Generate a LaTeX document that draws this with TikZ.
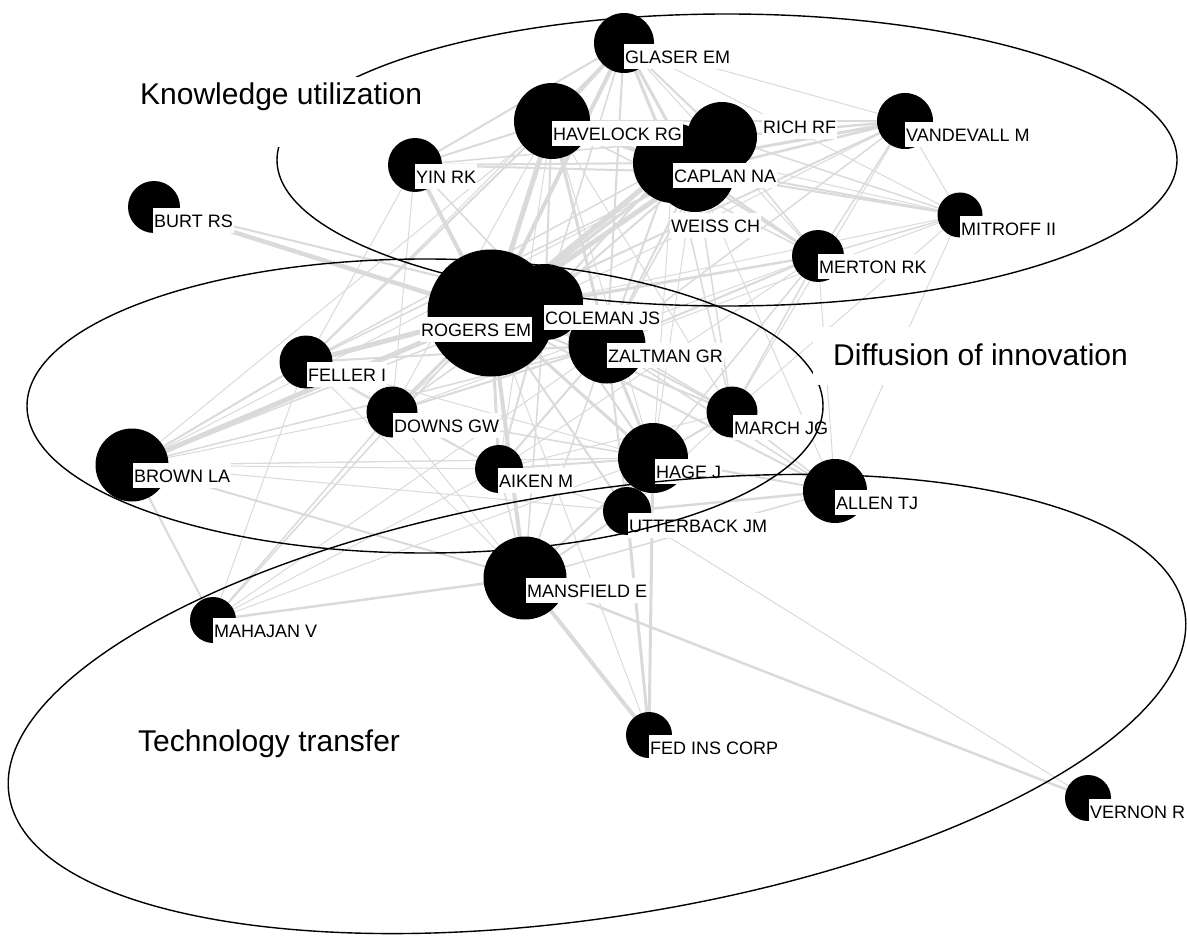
\documentclass[tikz,border=0pt]{standalone}
\usepackage{fontspec}
\setmainfont{Liberation Sans}
\usetikzlibrary{backgrounds}
\definecolor{edgegray}{RGB}{218,218,218}
\tikzset{
  au/.style={circle,fill=black,draw=none,inner sep=0pt,minimum size=#1},
  lab/.style={anchor=north west,fill=white,inner xsep=1pt,inner ysep=0pt,text height=19pt,text depth=6pt,font=\fontsize{18}{20}\selectfont},
  biglab/.style={anchor=base west,inner ysep=0pt,font=\fontsize{30}{36}\selectfont},
  lnk/.style={draw=edgegray,line cap=round},
  ell/.style={draw=black,line width=1.4pt}
}
\begin{document}
\begin{tikzpicture}[x=1pt,y=-1pt]
\useasboundingbox (0,0) rectangle (1187,936);
% authors (circles)
\node[au=60pt] (glaser) at (624,43) {};
\node[au=76pt] (havelock) at (552,121) {};
\node[au=80pt] (caplan) at (673,163) {};
\node[au=80pt] (weiss) at (695,172) {};
\node[au=70pt] (rich) at (722,137) {};
\node[au=56pt] (vandevall) at (905,121) {};
\node[au=54pt] (yin) at (415,165) {};
\node[au=52pt] (burt) at (154,207) {};
\node[au=45pt] (mitroff) at (960,215) {};
\node[au=52pt] (merton) at (818,256) {};
\node[au=127pt] (rogers) at (491,313) {};
\node[au=76pt] (coleman) at (545,302) {};
\node[au=77pt] (zaltman) at (607,345) {};
\node[au=53pt] (feller) at (306,362) {};
\node[au=51pt] (downs) at (392,412) {};
\node[au=51pt] (march) at (732,412) {};
\node[au=73pt] (brown) at (132,465) {};
\node[au=48pt] (aiken) at (499,469) {};
\node[au=70pt] (hage) at (653,458) {};
\node[au=48pt] (utterback) at (627,511) {};
\node[au=64pt] (allen) at (835,491) {};
\node[au=83pt] (mansfield) at (525,578) {};
\node[au=46pt] (mahajan) at (213,620) {};
\node[au=46pt] (fed) at (649,735) {};
\node[au=46pt] (vernon) at (1088,798) {};
% ties
\begin{scope}[on background layer]
\foreach \a/\b/\w in {
rogers/havelock/5, rogers/caplan/5, rogers/weiss/5, rogers/rich/3, rogers/glaser/4, rogers/yin/4,
rogers/coleman/4, rogers/zaltman/4, rogers/feller/5, rogers/brown/5, rogers/burt/4.5, rogers/downs/3,
rogers/aiken/3, rogers/hage/3, rogers/march/2, rogers/mansfield/4, rogers/utterback/2, rogers/allen/2,
rogers/merton/2, rogers/vandevall/2, rogers/mitroff/1, rogers/mahajan/1.5, rogers/fed/1,
havelock/glaser/4, havelock/caplan/4, havelock/weiss/3, havelock/rich/3, havelock/yin/2, havelock/zaltman/3,
havelock/coleman/2, havelock/feller/2, havelock/brown/1, havelock/downs/1, havelock/vandevall/2,
havelock/merton/1.5, havelock/mitroff/1, havelock/hage/1, havelock/march/1, havelock/aiken/1,
caplan/glaser/3, caplan/weiss/4, caplan/vandevall/3, caplan/mitroff/2, caplan/merton/2, caplan/yin/2,
caplan/zaltman/2, caplan/coleman/2, caplan/feller/1.5, caplan/downs/1, caplan/march/1.5, caplan/hage/1,
weiss/glaser/3, weiss/vandevall/2.5, weiss/mitroff/2, weiss/merton/2.5, weiss/yin/2, weiss/zaltman/2,
weiss/coleman/2, weiss/feller/1.5, weiss/brown/1, weiss/march/1.5, weiss/hage/1, weiss/allen/1,
rich/glaser/2, rich/vandevall/2.5, rich/mitroff/1.5, rich/merton/1.5, rich/yin/1.5, rich/zaltman/1.5,
glaser/yin/2, glaser/vandevall/1, glaser/zaltman/2, glaser/coleman/1.5, glaser/mitroff/1, glaser/merton/1, glaser/feller/1,
vandevall/mitroff/1, vandevall/merton/1.5, vandevall/zaltman/1.5, vandevall/coleman/1, vandevall/march/1,
mitroff/merton/1.5, mitroff/allen/1, mitroff/march/1, mitroff/zaltman/1,
merton/coleman/2, merton/zaltman/2, merton/march/1.5, merton/hage/1.5, merton/allen/1, merton/aiken/1, merton/downs/1,
coleman/zaltman/3, coleman/feller/2, coleman/burt/2, coleman/brown/1.5, coleman/hage/2, coleman/aiken/2,
coleman/march/1.5, coleman/downs/1.5, coleman/mansfield/1.5, coleman/yin/1.5,
zaltman/hage/3, zaltman/aiken/2, zaltman/march/2, zaltman/downs/2, zaltman/feller/2, zaltman/utterback/2,
zaltman/allen/1.5, zaltman/brown/1.5, zaltman/mansfield/1.5, zaltman/mahajan/1,
feller/brown/2, feller/downs/1.5, feller/yin/1, feller/hage/1, feller/aiken/1, feller/mansfield/1,
downs/aiken/1.5, downs/hage/1.5, downs/mahajan/1.5, downs/brown/1, downs/mansfield/1, downs/yin/1,
aiken/hage/2, aiken/march/1, aiken/mansfield/1.5, aiken/utterback/1,
hage/march/2, hage/utterback/2, hage/allen/2, hage/mansfield/2, hage/fed/3, hage/brown/1,
march/allen/1.5, march/utterback/1,
utterback/allen/2.5, utterback/mansfield/2, utterback/fed/3, utterback/vernon/1,
allen/mansfield/1.5,
mansfield/fed/4, mansfield/vernon/2.5, mansfield/mahajan/2.5, mansfield/brown/2,
brown/mahajan/2, brown/utterback/1, brown/aiken/1, brown/hage/1,
mahajan/hage/1, mahajan/aiken/1, mahajan/feller/1}
  \draw[lnk,line width=\w pt] (\a.center) -- (\b.center);
\end{scope}
% author labels
\node[lab] (glaser-l) at (624,44) {GLASER EM};
\node[lab] (havelock-l) at (552,121) {HAVELOCK RG};
\node[lab] (caplan-l) at (673,163) {CAPLAN NA};
\node[lab] (weiss-l) at (670,213) {WEISS CH};
\node[lab] (rich-l) at (762,114) {RICH RF};
\node[lab] (vandevall-l) at (905,122) {VANDEVALL M};
\node[lab] (yin-l) at (415,164) {YIN RK};
\node[lab] (burt-l) at (153,208) {BURT RS};
\node[lab] (mitroff-l) at (960,216) {MITROFF II};
\node[lab] (merton-l) at (818,254) {MERTON RK};
\node[lab] (rogers-l) at (420,317) {ROGERS EM};
\node[lab] (coleman-l) at (544,305) {COLEMAN JS};
\node[lab] (zaltman-l) at (607,343) {ZALTMAN GR};
\node[lab] (feller-l) at (307,362) {FELLER I};
\node[lab] (downs-l) at (393,413) {DOWNS GW};
\node[lab] (march-l) at (733,415) {MARCH JG};
\node[lab] (brown-l) at (133,463) {BROWN LA};
\node[lab] (aiken-l) at (498,468) {AIKEN M};
\node[lab] (hage-l) at (655,459) {HAGE J};
\node[lab] (utterback-l) at (628,513) {UTTERBACK JM};
\node[lab] (allen-l) at (835,490) {ALLEN TJ};
\node[lab] (mansfield-l) at (526,578) {MANSFIELD E};
\node[lab] (mahajan-l) at (213,618) {MAHAJAN V};
\node[lab] (fed-l) at (649,735) {FED INS CORP};
\node[lab] (vernon-l) at (1089,799) {VERNON R};
% research areas
\draw[ell] (727,160) ellipse [x radius=450pt, y radius=146pt];
\draw[ell] (425,406) ellipse [x radius=398pt, y radius=147pt];
\draw[ell, rotate around={8.86:(597,704)}] (597,704) ellipse [x radius=595pt, y radius=213pt];
\fill[white] (130,77) rectangle (364,147);
\node[biglab, inner xsep=0pt] (ku) at (140,105) {Knowledge utilization};
\node[biglab, fill=white, inner xsep=20pt, text height=38pt, text depth=20pt] (di) at (813,365) {Diffusion of innovation};
\node[biglab, inner xsep=0pt] (tt) at (138,751) {Technology transfer};
\end{tikzpicture}
\end{document}
